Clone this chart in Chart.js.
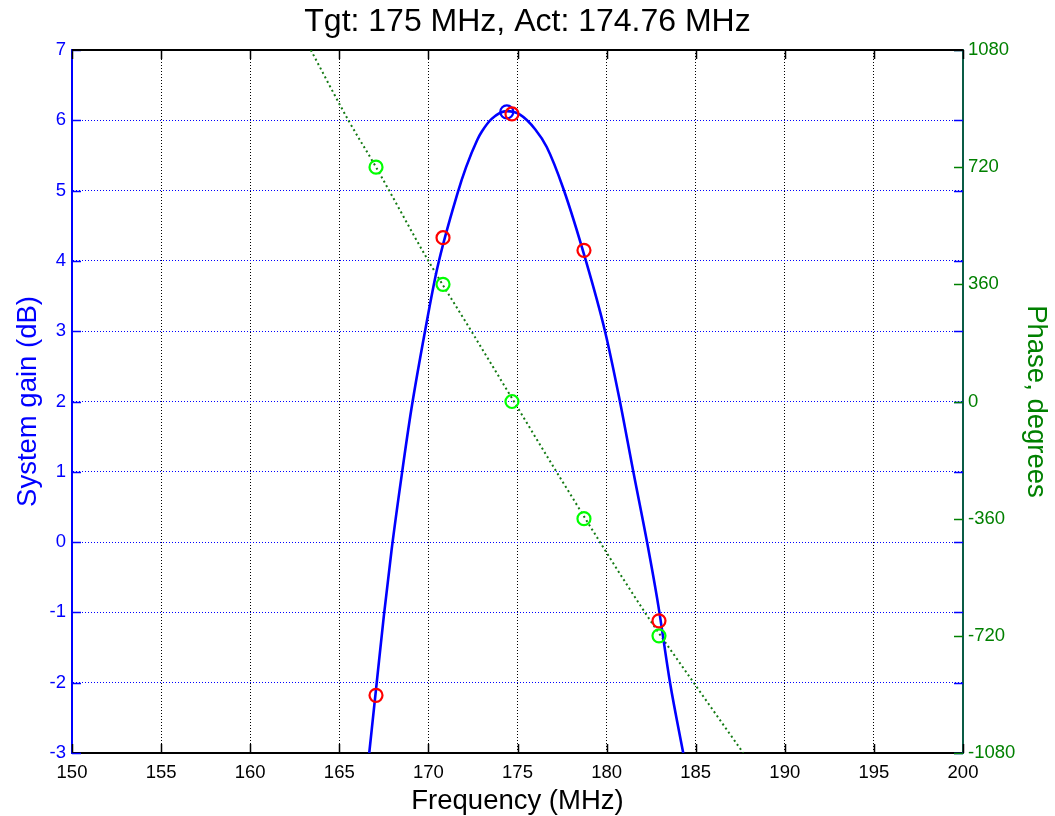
<!DOCTYPE html>
<html>
<head>
<meta charset="utf-8">
<script src="https://cdn.jsdelivr.net/npm/chart.js@4/dist/chart.umd.min.js"></script>
<style>
  html, body { margin: 0; padding: 0; background: #fff; }
  #wrap { width: 1055px; height: 816px; }
</style>
</head>
<body>
<div id="wrap"><canvas id="gainChart"></canvas></div>
<script>
'use strict';

// System gain curve (MHz, dB)
const gainFreq = [166.68, 167.1, 167.5, 167.94, 168.5, 169.05, 169.81, 170.5, 171.62, 172.11, 172.74, 173.0, 173.55, 174.4,
                  175.14, 176.0, 176.64, 177.57, 178.84, 179.91, 180.71, 181.5, 182.27, 182.9, 183.56, 184.3];
const gainDb = [-3, -2, -1.05, -0.1, 0.95, 1.9, 3.0, 3.9, 4.95, 5.33, 5.72, 5.84, 6.02, 6.13,
                6.08, 5.87, 5.62, 5.03, 4.0, 3.0, 2.05, 1.0, 0, -0.9, -2, -3];

// Phase trace (MHz, degrees)
const phaseFreq = [163.4, 165.5, 167.06, 170.0, 172.4, 174.8, 177.4, 182.15, 184.9, 187.67];
const phaseDeg = [1080, 865, 720, 432, 217, 0, -235, -648, -865, -1080];

// Measured points
const markFreq = [167.06, 170.82, 174.69, 178.73, 182.94];
const markGainDb = [-2.18, 4.33, 6.09, 4.15, -1.12];
const markPhaseDeg = [720, 360, 0, -360, -720];

// Peak of the fitted curve
const peakFreq = [174.4];
const peakDb = [6.12];

const chartTitle = 'Tgt: 175 MHz, Act: 174.76 MHz';

const BLUE = '#0000ff';
const GREEN = '#008000';
const FONT = "'Liberation Sans', Arial, Helvetica, sans-serif";

function zip(xs, ys) {
    return xs.map((x, i) => ({ x: x, y: ys[i] }));
}

Chart.defaults.font.family = FONT;
Chart.defaults.color = '#000';

// Inward tick marks and top frame line, MATLAB style
const frameTicks = {
    id: 'frameTicks',
    beforeDatasetsDraw(chart) {
        const { ctx, chartArea: a, scales } = chart;
        const len = 9;
        ctx.save();
        ctx.lineWidth = 1.5;

        ctx.strokeStyle = '#000';
        scales.x.ticks.forEach(t => {
            const px = Math.round(scales.x.getPixelForValue(t.value)) + 0.5;
            ctx.beginPath();
            ctx.moveTo(px, a.bottom); ctx.lineTo(px, a.bottom - len);
            ctx.moveTo(px, a.top); ctx.lineTo(px, a.top + len);
            ctx.stroke();
        });

        ctx.strokeStyle = BLUE;
        scales.y.ticks.forEach(t => {
            const py = Math.round(scales.y.getPixelForValue(t.value)) + 0.5;
            ctx.beginPath();
            ctx.moveTo(a.left, py); ctx.lineTo(a.left + len, py);
            ctx.moveTo(a.right, py); ctx.lineTo(a.right - len, py);
            ctx.stroke();
        });

        ctx.strokeStyle = GREEN;
        scales.y2.ticks.forEach(t => {
            const py = Math.round(scales.y2.getPixelForValue(t.value)) + 0.5;
            ctx.beginPath();
            ctx.moveTo(a.right, py); ctx.lineTo(a.right - len, py);
            ctx.stroke();
        });

        // top edge of the box
        ctx.strokeStyle = '#000';
        ctx.lineWidth = 2;
        ctx.beginPath();
        ctx.moveTo(a.left, a.top);
        ctx.lineTo(a.right, a.top);
        ctx.stroke();
        ctx.restore();
    }
};

new Chart(document.getElementById('gainChart'), {
    type: 'scatter',
    data: {
        datasets: [
            {
                label: 'Gain points',
                data: zip(markFreq, markGainDb),
                yAxisID: 'y',
                showLine: false,
                pointRadius: 6.5,
                pointBorderWidth: 2.2,
                pointBorderColor: '#ff0000',
                pointBackgroundColor: 'rgba(0,0,0,0)',
                order: 0
            },
            {
                label: 'Phase points',
                data: zip(markFreq, markPhaseDeg),
                yAxisID: 'y2',
                showLine: false,
                pointRadius: 6.5,
                pointBorderWidth: 2.2,
                pointBorderColor: '#00ff00',
                pointBackgroundColor: 'rgba(0,0,0,0)',
                order: 1
            },
            {
                label: 'Peak',
                data: zip(peakFreq, peakDb),
                yAxisID: 'y',
                showLine: false,
                pointRadius: 6.5,
                pointBorderWidth: 2.2,
                pointBorderColor: BLUE,
                pointBackgroundColor: 'rgba(0,0,0,0)',
                order: 2
            },
            {
                label: 'System gain',
                data: zip(gainFreq, gainDb),
                yAxisID: 'y',
                showLine: true,
                borderColor: BLUE,
                borderWidth: 2.6,
                pointRadius: 0,
                cubicInterpolationMode: 'monotone',
                order: 3
            },
            {
                label: 'Phase',
                data: zip(phaseFreq, phaseDeg),
                yAxisID: 'y2',
                showLine: true,
                borderColor: '#137a13',
                borderWidth: 2,
                borderDash: [2, 3],
                pointRadius: 0,
                cubicInterpolationMode: 'monotone',
                order: 4
            }
        ]
    },
    options: {
        responsive: true,
        maintainAspectRatio: false,
        animation: false,
        layout: { padding: 0 },
        plugins: {
            legend: { display: false },
            tooltip: { enabled: false },
            title: {
                display: true,
                text: chartTitle,
                color: '#000',
                font: { size: 32, weight: 'normal' },
                padding: { top: 3, bottom: 8.6 }
            }
        },
        scales: {
            x: {
                type: 'linear',
                min: 150,
                max: 200,
                afterFit: s => { s.height = 63; },
                ticks: { stepSize: 5, color: '#000', font: { size: 18.5 }, padding: 9, maxRotation: 0,
                         callback: v => String(v) },
                grid: { color: '#000', lineWidth: 1, drawTicks: false },
                border: { color: '#000', width: 2, dash: [1, 2] },
                title: {
                    display: true,
                    text: 'Frequency (MHz)',
                    color: '#000',
                    font: { size: 27.5 },
                    padding: { top: 0, bottom: -2 }
                }
            },
            y: {
                type: 'linear',
                position: 'left',
                min: -3,
                max: 7,
                afterFit: s => { s.width = 72; },
                ticks: { stepSize: 1, color: BLUE, font: { size: 18.5 }, padding: 6, callback: v => String(v) },
                grid: { color: BLUE, lineWidth: 1, drawTicks: false },
                border: { color: BLUE, width: 2, dash: [1, 2] },
                title: {
                    display: true,
                    text: 'System gain (dB)',
                    color: BLUE,
                    font: { size: 27.5 },
                    padding: { top: 12, bottom: 0 }
                }
            },
            y2: {
                type: 'linear',
                position: 'right',
                min: -1080,
                max: 1080,
                afterFit: s => { s.width = 92; },
                ticks: { stepSize: 360, color: GREEN, font: { size: 18.5 }, padding: 5, callback: v => String(v) },
                grid: { drawOnChartArea: false, drawTicks: false },
                border: { color: '#0a5c46', width: 2 },
                title: {
                    display: true,
                    text: 'Phase, degrees',
                    color: GREEN,
                    font: { size: 27.5 },
                    padding: { top: 3, bottom: 0 }
                }
            }
        }
    },
    plugins: [frameTicks]
});
</script>
</body>
</html>
